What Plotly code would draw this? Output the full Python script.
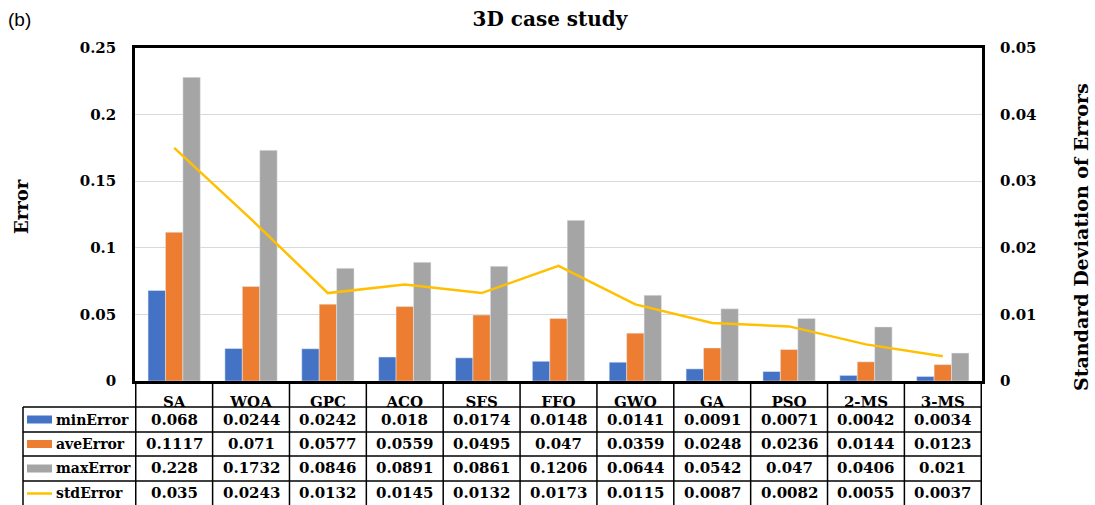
import plotly.graph_objects as go

# Algorithms compared in the 3D case study
algorithms = ["SA", "WOA", "GPC", "ACO", "SFS", "FFO", "GWO", "GA", "PSO", "2-MS", "3-MS"]

min_error = [0.068, 0.0244, 0.0242, 0.018, 0.0174, 0.0148, 0.0141, 0.0091, 0.0071, 0.0042, 0.0034]
ave_error = [0.1117, 0.071, 0.0577, 0.0559, 0.0495, 0.047, 0.0359, 0.0248, 0.0236, 0.0144, 0.0123]
max_error = [0.228, 0.1732, 0.0846, 0.0891, 0.0861, 0.1206, 0.0644, 0.0542, 0.047, 0.0406, 0.021]
std_error = [0.035, 0.0243, 0.0132, 0.0145, 0.0132, 0.0173, 0.0115, 0.0087, 0.0082, 0.0055, 0.0037]

left_ticks = [0, 0.05, 0.1, 0.15, 0.2, 0.25]
right_ticks = [0, 0.01, 0.02, 0.03, 0.04, 0.05]

BLUE, ORANGE, GRAY, GOLD = "#4472C4", "#ED7D31", "#A5A5A5", "#FFC000"
SERIF = "DejaVu Serif"

W, H = 1095, 505
ML, MR, MT, MB = 135, 113, 48, 124
PW, PH = W - ML - MR, H - MT - MB


def px_x(p):
    """Pixel column -> paper x."""
    return (p - ML) / PW


def px_y(p):
    """Pixel row -> paper y."""
    return (H - MB - p) / PH


fig = go.Figure()
fig.add_bar(x=algorithms, y=min_error, name="minError", marker_color=BLUE)
fig.add_bar(x=algorithms, y=ave_error, name="aveError", marker_color=ORANGE)
fig.add_bar(x=algorithms, y=max_error, name="maxError", marker_color=GRAY)
fig.add_scatter(x=algorithms, y=std_error, name="stdError", mode="lines",
                line=dict(color=GOLD, width=2.5), yaxis="y2")

shapes = []
annotations = []

# Data table below the plot: grid lines
row_lines = [407, 432, 456, 481, 506]
left_edge = 23
table_bottom = 506
for i in range(len(algorithms) + 1):
    shapes.append(dict(type="line", xref="x", yref="paper",
                       x0=i - 0.5, x1=i - 0.5, y0=px_y(381), y1=px_y(table_bottom),
                       line=dict(color="black", width=1.5)))
shapes.append(dict(type="line", xref="paper", yref="paper",
                   x0=px_x(left_edge), x1=px_x(left_edge),
                   y0=px_y(407), y1=px_y(table_bottom),
                   line=dict(color="black", width=1.5)))
for r in row_lines:
    shapes.append(dict(type="line", xref="paper", yref="paper",
                       x0=px_x(left_edge), x1=1, y0=px_y(r), y1=px_y(r),
                       line=dict(color="black", width=1.5)))

# Table rows: legend key + values
rows = [
    ("minError", min_error, BLUE, "bar"),
    ("aveError", ave_error, ORANGE, "bar"),
    ("maxError", max_error, GRAY, "bar"),
    ("stdError", std_error, GOLD, "line"),
]
for k, (label, values, color, kind) in enumerate(rows):
    top, bot = row_lines[k], row_lines[k + 1]
    mid = (top + bot) / 2
    if kind == "bar":
        shapes.append(dict(type="rect", xref="paper", yref="paper",
                           x0=px_x(27), x1=px_x(52), y0=px_y(mid - 4), y1=px_y(mid + 4),
                           fillcolor=color, line=dict(width=0)))
    else:
        shapes.append(dict(type="line", xref="paper", yref="paper",
                           x0=px_x(27), x1=px_x(52), y0=px_y(mid), y1=px_y(mid),
                           line=dict(color=color, width=2.5)))
    annotations.append(dict(xref="paper", yref="paper", x=px_x(54), y=px_y(mid),
                            text=f"<b>{label}</b>", showarrow=False,
                            xanchor="left", yanchor="middle",
                            font=dict(family=SERIF, size=14, color="black")))
    for i, v in enumerate(values):
        annotations.append(dict(xref="x", yref="paper", x=i, y=px_y(mid),
                                text=f"<b>{v:g}</b>", showarrow=False,
                                xanchor="center", yanchor="middle",
                                font=dict(family=SERIF, size=15, color="black")))

# Panel tag and axis titles
annotations.append(dict(xref="paper", yref="paper", x=px_x(6), y=px_y(19),
                        text="(b)", showarrow=False, xanchor="left", yanchor="middle",
                        font=dict(family="Liberation Sans", size=19, color="black")))
annotations.append(dict(xref="paper", yref="paper", x=px_x(21), y=px_y(207),
                        text="<b>Error</b>", showarrow=False, textangle=-90,
                        xanchor="center", yanchor="middle",
                        font=dict(family=SERIF, size=18, color="black")))
annotations.append(dict(xref="paper", yref="paper", x=px_x(1081), y=px_y(237),
                        text="<b>Standard Deviation of Errors</b>", showarrow=False,
                        textangle=-90, xanchor="center", yanchor="middle",
                        font=dict(family=SERIF, size=19, color="black")))

fig.update_layout(
    width=W, height=H,
    margin=dict(l=ML, r=MR, t=MT, b=MB),
    paper_bgcolor="white", plot_bgcolor="white",
    showlegend=False,
    barmode="group", bargap=0.32, bargroupgap=0,
    title=dict(text="<b>3D case study</b>", x=550 / W, xanchor="center",
               y=1 - 19 / H, yanchor="middle",
               font=dict(family=SERIF, size=20, color="black")),
    xaxis=dict(showline=True, mirror=True, linecolor="black", linewidth=2.5,
               ticks="", showgrid=False, ticklabelstandoff=5,
               tickfont=dict(family=SERIF, size=15, color="black"),
               tickprefix="<b>", ticksuffix="</b>"),
    yaxis=dict(range=[0, 0.25], tickvals=left_ticks,
               ticktext=[f"<b>{t:g}</b>" for t in left_ticks],
               showline=True, mirror=True, linecolor="black", linewidth=2.5,
               showgrid=True, gridcolor="#D9D9D9", gridwidth=1, zeroline=False,
               ticks="", ticklabelstandoff=13,
               tickfont=dict(family=SERIF, size=15, color="black")),
    yaxis2=dict(range=[0, 0.05], tickvals=right_ticks,
                ticktext=[f"<b>{t:g}</b>" for t in right_ticks],
                overlaying="y", side="right", showgrid=False, zeroline=False,
                showline=False, ticks="", ticklabelstandoff=17,
                tickfont=dict(family=SERIF, size=15, color="black")),
    shapes=shapes,
    annotations=annotations,
)

fig.write_html("out.html")
